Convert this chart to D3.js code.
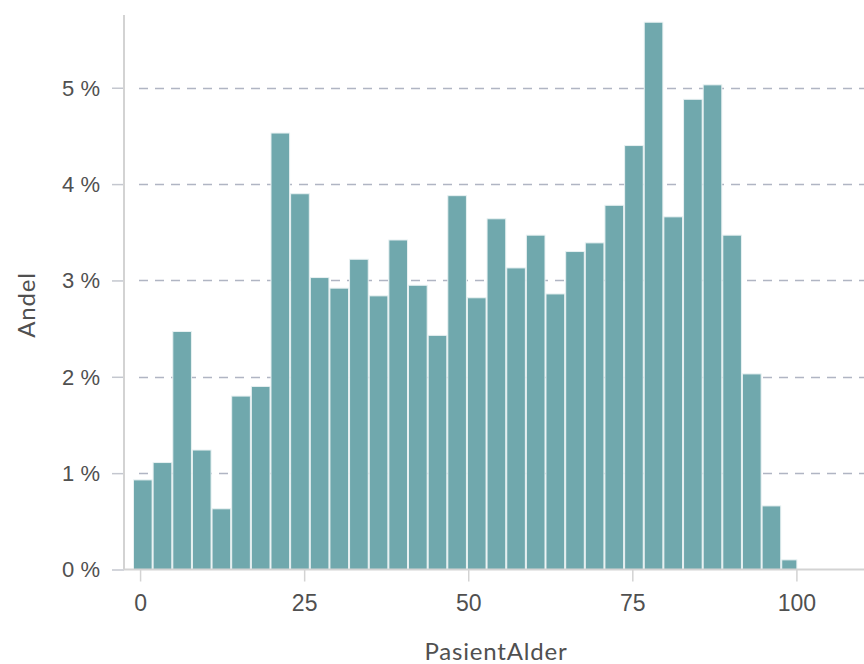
<!DOCTYPE html>
<html>
<head>
<meta charset="utf-8">
<script src="https://cdn.jsdelivr.net/npm/d3@7"></script>
<style>
  html, body { margin: 0; padding: 0; background: #fff; }
  svg { display: block; font-family: Lato, "Open Sans", sans-serif; }
</style>
</head>
<body>
<svg id="chart" width="864" height="664"></svg>
<script>
// Bin edges of PasientAlder (age) histogram
const binEdges = [-1.08, 1.91, 4.91, 7.90, 10.89, 13.88, 16.88, 19.87, 22.86, 25.86,
  28.85, 31.84, 34.84, 37.83, 40.82, 43.82, 46.81, 49.80, 52.79, 55.79,
  58.78, 61.77, 64.77, 67.76, 70.75, 73.75, 76.74, 79.73, 82.73, 85.72,
  88.71, 91.70, 94.70, 97.69, 100.15];
// Share (Andel) in percent for each bin
const shares = [0.93, 1.11, 2.47, 1.24, 0.63, 1.80, 1.90, 4.53, 3.90, 3.03,
  2.92, 3.22, 2.84, 3.42, 2.95, 2.43, 3.88, 2.82, 3.64, 3.13,
  3.47, 2.86, 3.30, 3.39, 3.78, 4.40, 5.68, 3.66, 4.88, 5.03,
  3.47, 2.03, 0.66, 0.10];
const xTicks = [0, 25, 50, 75, 100];
const yTicks = [0, 1, 2, 3, 4, 5];
const xTitle = "PasientAlder";
const yTitle = "Andel";

const bins = shares.map((v, i) => ({ x0: binEdges[i], x1: binEdges[i + 1], v }));

const svg = d3.select("#chart");
const mLeft = 124, mRight = 864, mTop = 15, mBottom = 569.5;

const x = d3.scaleLinear().domain([-2.45, 110.3]).range([mLeft, mRight]);
const y = d3.scaleLinear().domain([0, 5.755]).range([mBottom, mTop]);

const textColor = "#505050";

// gridlines
svg.append("g").selectAll("line.grid")
  .data(yTicks.filter(d => d > 0))
  .join("line")
  .attr("x1", mLeft + 15).attr("x2", mRight)
  .attr("y1", d => Math.round(y(d)) + 0.5).attr("y2", d => Math.round(y(d)) + 0.5)
  .attr("stroke", "#b0b5c3").attr("stroke-width", 1.5)
  .attr("stroke-dasharray", "9,7");

// y axis
const yAxis = svg.append("g")
  .attr("transform", `translate(${mLeft},0)`)
  .call(d3.axisLeft(y).tickValues(yTicks).tickSize(12).tickPadding(12)
        .tickFormat(d => d + " %"));
yAxis.select(".domain").remove();
yAxis.selectAll(".tick line").attr("stroke", "#c4c7cf").attr("stroke-width", 1.5);
yAxis.selectAll(".tick text").attr("fill", textColor)
  .style("font-size", "22px").attr("dy", "0.34em");

// bars
svg.append("g").selectAll("rect")
  .data(bins)
  .join("rect")
  .attr("x", d => x(d.x0) + 0.5)
  .attr("width", d => Math.max(0, x(d.x1) - x(d.x0) - 1))
  .attr("y", d => y(d.v))
  .attr("height", d => y(0) - y(d.v))
  .attr("fill", "#70a8ad")
  .attr("stroke", "#e8f1f2")
  .attr("stroke-width", 1);

// y axis line
svg.append("line")
  .attr("x1", mLeft).attr("x2", mLeft).attr("y1", mTop).attr("y2", mBottom)
  .attr("stroke", "#d3d3d3").attr("stroke-width", 2);

// x axis
const xAxis = svg.append("g")
  .attr("transform", `translate(0,${mBottom})`)
  .call(d3.axisBottom(x).tickValues(xTicks).tickSize(12).tickPadding(13)
        .tickFormat(d3.format("d")));
xAxis.select(".domain").attr("stroke", "#d3d3d3").attr("stroke-width", 2)
  .attr("d", `M${mLeft},0H${mRight}`);
xAxis.selectAll(".tick line").attr("stroke", "#d3d3d3").attr("stroke-width", 1.5);
xAxis.selectAll(".tick text").attr("fill", textColor).style("font-size", "23px");

// titles
svg.append("text")
  .attr("x", 496).attr("y", 660)
  .attr("text-anchor", "middle")
  .attr("fill", textColor)
  .style("font-size", "24px")
  .style("letter-spacing", "0.8px")
  .text(xTitle);

svg.append("text")
  .attr("transform", "translate(35,305) rotate(-90)")
  .attr("text-anchor", "middle")
  .attr("fill", textColor)
  .style("font-size", "24px")
  .style("letter-spacing", "0.8px")
  .text(yTitle);
</script>
</body>
</html>
